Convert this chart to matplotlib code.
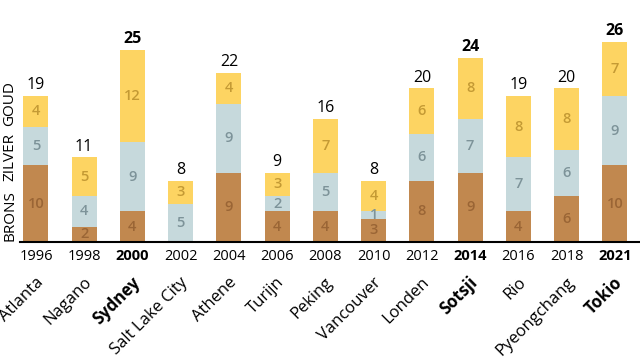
import matplotlib.pyplot as plt
import numpy as np
from matplotlib import transforms

plt.rcParams['font.family'] = ['Open Sans', 'DejaVu Sans']

# data
jaren = ['1996', '1998', '2000', '2002', '2004', '2006', '2008',
         '2010', '2012', '2014', '2016', '2018', '2021']
steden = ['Atlanta', 'Nagano', 'Sydney', 'Salt Lake City', 'Athene', 'Turijn',
          'Peking', 'Vancouver', 'Londen', 'Sotsji', 'Rio', 'Pyeongchang', 'Tokio']
brons = [10, 2, 4, 0, 9, 4, 4, 3, 8, 9, 4, 6, 10]
zilver = [5, 4, 9, 5, 9, 2, 5, 1, 6, 7, 7, 6, 9]
goud = [4, 5, 12, 3, 4, 3, 7, 4, 6, 8, 8, 8, 7]
vet = ['2000', '2014', '2021']  # in bold

kleur_brons = '#c1884f'
kleur_zilver = '#c6d9dc'
kleur_goud = '#fdd462'
tekst_brons = '#9a6535'
tekst_zilver = '#7d9399'
tekst_goud = '#c49a34'

fig = plt.figure(figsize=(6.4, 3.6), dpi=100)
ax = fig.add_axes([20 / 640, 118 / 360, 620 / 640, 242 / 360])

x = np.arange(len(jaren))
b = np.array(brons)
z = np.array(zilver)
g = np.array(goud)
w = 0.52

ax.bar(x, b, w, color=kleur_brons)
ax.bar(x, z, w, bottom=b, color=kleur_zilver)
ax.bar(x, g, w, bottom=b + z, color=kleur_goud)

for i in range(len(x)):
    for val, bot, kl in [(b[i], 0, tekst_brons), (z[i], b[i], tekst_zilver),
                         (g[i], b[i] + z[i], tekst_goud)]:
        if val > 0:
            ax.text(x[i], bot + val / 2, str(val), ha='center', va='center',
                    fontsize=10.5, color=kl, fontweight='semibold')
    totaal = b[i] + z[i] + g[i]
    ax.annotate(str(totaal), (x[i], totaal), xytext=(0, 2), textcoords='offset points',
                ha='center', va='bottom', fontsize=11.5,
                fontweight='bold' if jaren[i] in vet else 'normal')

ax.set_xlim(-0.33, 12.52)
ax.set_ylim(0, 31.5)
ax.set_yticks([])
ax.set_xticks(x)
ax.set_xticklabels(jaren, fontsize=10.5)
for lbl in ax.get_xticklabels():
    if lbl.get_text() in vet:
        lbl.set_fontweight('bold')
ax.tick_params(axis='x', length=0, pad=5)
for s in ['top', 'right', 'left']:
    ax.spines[s].set_visible(False)
ax.spines['bottom'].set_linewidth(1.5)

# stadnamen schuin onder de jaartallen
trans = transforms.blended_transform_factory(ax.transData, ax.transAxes)
for i, stad in enumerate(steden):
    off = transforms.ScaledTranslation(5 / 100, -38 / 100, fig.dpi_scale_trans)
    ax.text(x[i], 0, stad, transform=trans + off, rotation=45, rotation_mode='anchor',
            ha='right', va='center', fontsize=12,
            fontweight='bold' if jaren[i] in vet else 'normal')

fig.text(10 / 640, 1 - 216 / 360, 'BRONS', rotation=90, ha='center', va='center', fontsize=11)
fig.text(10 / 640, 1 - 157 / 360, 'ZILVER', rotation=90, ha='center', va='center', fontsize=11)
fig.text(10 / 640, 1 - 104 / 360, 'GOUD', rotation=90, ha='center', va='center', fontsize=11)

fig.savefig('out.png', dpi=100)
